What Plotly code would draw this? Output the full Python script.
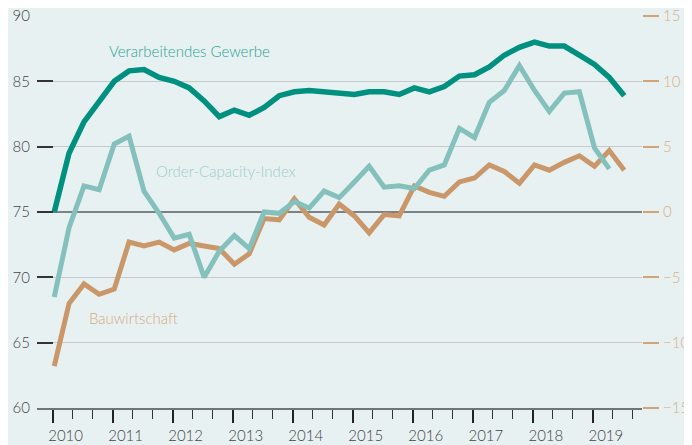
import plotly.graph_objects as go

# Quarterly observations, 2010 Q1 onwards
years = [2010 + i // 4 for i in range(39)]
quarters = [i % 4 + 1 for i in range(39)]

verarbeitendes = [75.0, 79.5, 81.9, 83.4, 85.0, 85.8, 85.9, 85.3, 85.0, 84.5,
                  83.5, 82.3, 82.8, 82.4, 83.0, 83.9, 84.2, 84.3, 84.2, 84.2,
                  84.0, 84.2, 84.2, 84.0, 84.5, 84.2, 84.6, 85.4, 85.5, 86.1,
                  87.0, 87.6, 88.0, 87.7, 87.7, 87.0, 86.3, 85.3, 83.9]

order_capacity = [-6.5, -1.2, 2.0, 1.7, 5.2, 5.8, 1.6, -0.1, -2.0, -1.7,
                  -5.0, -3.0, -1.8, -2.8, 0.0, -0.1, 0.8, 0.3, 1.6, 1.1,
                  2.3, 3.5, 1.9, 2.0, 1.8, 3.2, 3.6, 6.4, 5.7, 8.4,
                  9.3, 11.2, 9.3, 7.7, 9.1, 9.2, 4.9, 3.3]

bauwirtschaft = [63.2, 68.0, 69.5, 68.7, 69.1, 72.7, 72.4, 72.7, 72.1, 72.6,
                 72.4, 72.2, 71.0, 71.8, 74.5, 74.4, 76.0, 74.6, 74.0, 75.6,
                 74.7, 73.4, 74.8, 74.7, 77.0, 76.5, 76.2, 77.3, 77.6, 78.6,
                 78.1, 77.2, 78.6, 78.2, 78.8, 79.3, 78.5, 79.7, 78.2]

left_ticks = [60, 65, 70, 75, 80, 85, 90]
right_ticks = [-15, -10, -5, 0, 5, 10, 15]

dates = [f"{y}-{3 * (q - 1) + 1:02d}-11" for y, q in zip(years, quarters)]

C_VG = "#00907f"
C_OCI = "#84c0bc"
C_BAU = "#c9976a"
BG = "#e8f1f2"
FONT = "Lato"
W = 300

fig = go.Figure()
fig.add_trace(go.Scatter(x=dates[:len(order_capacity)], y=order_capacity, yaxis="y2",
                         mode="lines", line=dict(color=C_OCI, width=5), hoverinfo="skip"))
fig.add_trace(go.Scatter(x=dates, y=bauwirtschaft, mode="lines",
                         line=dict(color=C_BAU, width=5), hoverinfo="skip"))
fig.add_trace(go.Scatter(x=dates, y=verarbeitendes, mode="lines",
                         line=dict(color=C_VG, width=5.5), hoverinfo="skip"))

fig.update_layout(
    width=684, height=437,
    margin=dict(l=29, r=50, t=8, b=37),
    paper_bgcolor=BG, plot_bgcolor=BG,
    showlegend=False,
    font=dict(family=FONT, size=15, color="#444444", weight=W),
    xaxis=dict(
        type="date", automargin=False,
        range=["2009-09-28", "2019-10-27"],
        tick0="2010-01-01", dtick="M12", tickformat="%Y",
        ticks="outside", ticklen=13, tickwidth=2, tickcolor="#222222",
        ticklabelshift=13, ticklabeloverflow="allow",
        minor=dict(dtick="M4", ticks="outside", ticklen=9, tickwidth=1.2, tickcolor="#333333"),
        showgrid=False, zeroline=False,
        showline=True, linecolor="#6e7478", linewidth=2,
        tickfont=dict(family=FONT, size=15, color="#444444", weight=W),
    ),
    yaxis=dict(
        range=[60, 90], tickvals=left_ticks, automargin=False,
        ticks="inside", ticklen=16, tickwidth=1.5, tickcolor="#333333",
        showgrid=True, gridcolor="#c6cacc", gridwidth=1,
        zeroline=False, showline=False,
        ticklabelstandoff=6, ticklabeloverflow="allow",
        tickfont=dict(family=FONT, size=15, color="#444444", weight=W),
    ),
    yaxis2=dict(
        range=[-15, 15], tickvals=right_ticks, overlaying="y", side="right",
        automargin=False,
        ticks="outside", ticklen=16, tickwidth=1.5, tickcolor="#d3a473",
        showgrid=False, zeroline=True, zerolinecolor="#7b8286", zerolinewidth=2,
        showline=False, ticklabelstandoff=1, ticklabeloverflow="allow",
        tickfont=dict(family=FONT, size=15, color="#d6b08a", weight=W),
    ),
)

fig.add_annotation(x="2012-04-15", y=87.3, text="Verarbeitendes Gewerbe", showarrow=False,
                   xanchor="center", yanchor="middle",
                   font=dict(family=FONT, size=15, color="#27a393", weight=W))
fig.add_annotation(x="2012-11-20", y=78.15, text="Order-Capacity-Index", showarrow=False,
                   xanchor="center", yanchor="middle",
                   font=dict(family=FONT, size=15, color="#9ccdc9", weight=W))
fig.add_annotation(x="2011-05-08", y=66.9, text="Bauwirtschaft", showarrow=False,
                   xanchor="center", yanchor="middle",
                   font=dict(family=FONT, size=15, color="#d5ab80", weight=W))

fig.write_html("out.html")
